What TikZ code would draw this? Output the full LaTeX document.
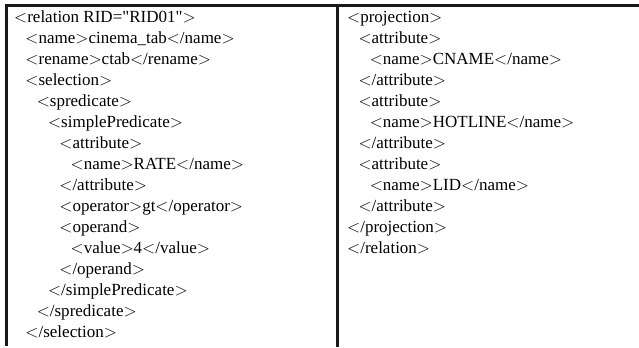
\documentclass[tikz,border=0pt]{standalone}
\usepackage{fontspec}
\setmainfont{Liberation Serif}
\newcommand{\lt}{$<$}
\newcommand{\gt}{$>$}
\newcommand{\qd}{\textquotedbl}
\begin{document}
\begin{tikzpicture}[x=1bp,y=-1bp,
  xml/.style={anchor=base west,inner sep=0pt,font=\fontsize{17bp}{20bp}\selectfont},
  frame/.style={line width=2.8bp,black!90}]
\useasboundingbox (0,0) rectangle (639,347);
\def\lx{14}\def\rx{347}\def\st{11.3}\def\by{22.7}\def\ls{21.0}
% left column
\node[xml] (l1)  at (\lx+0*\st,\by+0*\ls)  {\lt relation RID=\qd RID01\qd\gt};
\node[xml] (l2)  at (\lx+1*\st,\by+1*\ls)  {\lt name\gt cinema\_tab\lt/name\gt};
\node[xml] (l3)  at (\lx+1*\st,\by+2*\ls)  {\lt rename\gt ctab\lt/rename\gt};
\node[xml] (l4)  at (\lx+1*\st,\by+3*\ls)  {\lt selection\gt};
\node[xml] (l5)  at (\lx+2*\st,\by+4*\ls)  {\lt spredicate\gt};
\node[xml] (l6)  at (\lx+3*\st,\by+5*\ls)  {\lt simplePredicate\gt};
\node[xml] (l7)  at (\lx+4*\st,\by+6*\ls)  {\lt attribute\gt};
\node[xml] (l8)  at (\lx+5*\st,\by+7*\ls)  {\lt name\gt RATE\lt/name\gt};
\node[xml] (l9)  at (\lx+4*\st,\by+8*\ls)  {\lt/attribute\gt};
\node[xml] (l10) at (\lx+4*\st,\by+9*\ls)  {\lt operator\gt gt\lt/operator\gt};
\node[xml] (l11) at (\lx+4*\st,\by+10*\ls) {\lt operand\gt};
\node[xml] (l12) at (\lx+5*\st,\by+11*\ls) {\lt value\gt 4\lt/value\gt};
\node[xml] (l13) at (\lx+4*\st,\by+12*\ls) {\lt/operand\gt};
\node[xml] (l14) at (\lx+3*\st,\by+13*\ls) {\lt/simplePredicate\gt};
\node[xml] (l15) at (\lx+2*\st,\by+14*\ls) {\lt/spredicate\gt};
\node[xml] (l16) at (\lx+1*\st,\by+15*\ls) {\lt/selection\gt};
% right column
\node[xml] (r1)  at (\rx+0*\st,\by+0*\ls)  {\lt projection\gt};
\node[xml] (r2)  at (\rx+1*\st,\by+1*\ls)  {\lt attribute\gt};
\node[xml] (r3)  at (\rx+2*\st,\by+2*\ls)  {\lt name\gt CNAME\lt/name\gt};
\node[xml] (r4)  at (\rx+1*\st,\by+3*\ls)  {\lt/attribute\gt};
\node[xml] (r5)  at (\rx+1*\st,\by+4*\ls)  {\lt attribute\gt};
\node[xml] (r6)  at (\rx+2*\st,\by+5*\ls)  {\lt name\gt HOTLINE\lt/name\gt};
\node[xml] (r7)  at (\rx+1*\st,\by+6*\ls)  {\lt/attribute\gt};
\node[xml] (r8)  at (\rx+1*\st,\by+7*\ls)  {\lt attribute\gt};
\node[xml] (r9)  at (\rx+2*\st,\by+8*\ls)  {\lt name\gt LID\lt/name\gt};
\node[xml] (r10) at (\rx+1*\st,\by+9*\ls)  {\lt/attribute\gt};
\node[xml] (r11) at (\rx+0*\st,\by+10*\ls) {\lt/projection\gt};
\node[xml] (r12) at (\rx+0*\st,\by+11*\ls) {\lt/relation\gt};
% frame
\coordinate (tl) at (6.1,5.3);
\coordinate (tr) at (639,5.3);
\coordinate (bl) at (7.5,345.5);
\coordinate (mt) at (337.5,5.3);
\coordinate (mb) at (337.5,347);
\draw[frame] (tr) -- (tl) -- (tl|-bl);
\draw[frame] (mt) -- (mb);
\end{tikzpicture}
\end{document}
